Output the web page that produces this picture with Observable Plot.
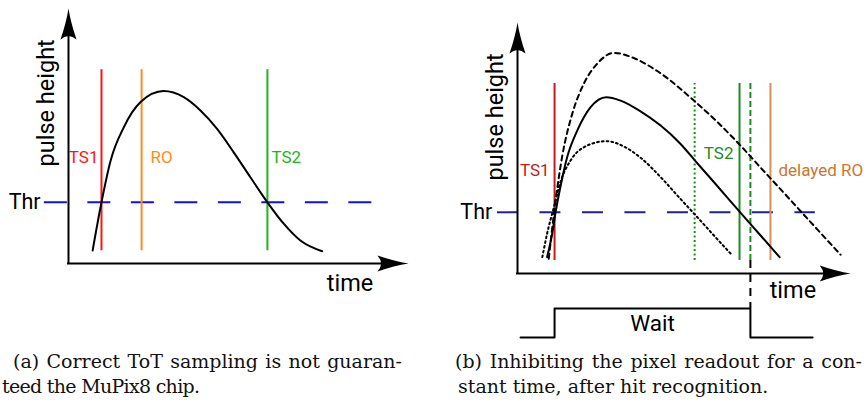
<!DOCTYPE html>
<html>
<head>
<meta charset="utf-8">
<script src="https://cdn.jsdelivr.net/npm/d3@7"></script>
<script src="https://cdn.jsdelivr.net/npm/@observablehq/plot@0.6"></script>
<style>
  body { margin: 0; background: #fff; }
  #fig { position: relative; width: 867px; height: 405px; overflow: hidden; background: #fff; }
  .panel { position: absolute; top: 0; }
  .cap { position: absolute; font-family: "DejaVu Serif", serif; font-size: 19px; line-height: 25px; color: #111; white-space: nowrap; }
  .just { text-align: justify; text-align-last: justify; }
</style>
</head>
<body>
<div id="fig">
  <div class="cap just" style="left:13px; top:349px; width:389px;">(a) Correct ToT sampling is not guaran-</div>
  <div class="cap" style="left:2px; top:374px; letter-spacing:-0.7px;">teed the MuPix8 chip.</div>
  <div class="cap just" style="left:455px; top:349px; width:407px;">(b) Inhibiting the pixel readout for a con-</div>
  <div class="cap" style="left:458px; top:374px;">stant time, after hit recognition.</div>
</div>
<script>
// ---------- (a) one pulse, sampled at TS1 / RO / TS2 ----------
const aPulseT = [0.71, 0.97, 1.24, 1.63, 2.12, 2.80, 3.39, 3.88, 4.37, 4.86, 5.35, 5.85, 6.33, 6.82, 7.46];
const aPulseH = [0.51, 2.40, 4.04, 5.35, 6.33, 6.76, 6.52, 6.00, 5.28, 4.36, 3.38, 2.40, 1.56, 0.90, 0.48];
const aThreshold = 2.4;
const aMarkerNames = ["TS1", "RO", "TS2"];
const aMarkerTimes = [0.97, 2.15, 5.85];

// ---------- (b) three pulse amplitudes, readout delayed by a fixed wait ----------
const bMidT = [0.87, 1.02, 1.12, 1.26, 1.46, 1.76, 2.15, 2.61, 3.03, 3.62, 4.21, 4.79, 5.24, 5.87, 6.55, 7.15, 7.71];
const bMidH = [0.64, 1.56, 2.40, 3.38, 4.56, 5.61, 6.52, 6.91, 6.78, 6.36, 5.80, 5.09, 4.40, 3.44, 2.40, 1.49, 0.64];
const bLargeT = [0.92, 1.12, 1.31, 1.61, 1.95, 2.34, 2.83, 3.42, 4.11, 5.19, 5.87, 6.50, 7.20, 7.85, 8.35, 8.81, 9.50];
const bLargeH = [0.58, 2.86, 4.56, 6.26, 7.44, 8.22, 8.65, 8.45, 7.94, 6.78, 5.95, 5.10, 4.08, 3.14, 2.41, 1.74, 0.74];
const bSmallT = [0.73, 0.87, 1.07, 1.26, 1.56, 1.95, 2.61, 3.13, 3.62, 4.21, 4.79, 5.24, 5.77, 6.31];
const bSmallH = [0.64, 1.56, 2.60, 3.58, 4.43, 4.95, 5.19, 4.98, 4.54, 3.78, 2.93, 2.28, 1.50, 0.72];
const bThreshold = 2.4;
const bMarkerNames = ["TS1", "TS2 small", "TS2", "TS2 after wait", "delayed RO"];
const bMarkerTimes = [1.09, 5.21, 6.53, 6.85, 7.44];
// Wait signal: logic level over time (step after each point)
const waitTimes = [0.09, 1.09, 6.85, 8.68];
const waitLevels = [0, 1, 0, 0];

// ---------- helpers ----------
const zip = (ts, hs) => ts.map((t, i) => ({t, h: hs[i]}));
const font = "Roboto";
const smooth = "monotone-x";

// filled arrow head, tip at the origin, pointing up
const arrowHead = {
  draw(ctx) {
    ctx.moveTo(0, 0);
    ctx.quadraticCurveTo(2.2, 14, 8, 31);
    ctx.quadraticCurveTo(0, 24, -8, 31);
    ctx.quadraticCurveTo(-2.2, 14, 0, 0);
    ctx.closePath();
  }
};

function axes(xTip, yTip) {
  return [
    Plot.ruleX([0], {y1: 0, y2: yTip - 0.6, stroke: "black", strokeWidth: 2, strokeLinecap: "square"}),
    Plot.ruleY([0], {x1: 0, x2: xTip - 0.5, stroke: "black", strokeWidth: 2, strokeLinecap: "square"}),
    Plot.dot([{t: 0, h: yTip, r: 0}, {t: xTip, h: 0, r: 90}],
      {x: "t", y: "h", rotate: "r", symbol: arrowHead, r: 5, fill: "black", stroke: "none"})
  ];
}

// ---------- panel (a) ----------
const aMarkers = aMarkerNames.map((name, i) => ({name, t: aMarkerTimes[i]}));
const aColors = {TS1: "#ff1414", RO: "#ff8a1f", TS2: "#1fb41f"};
const aLabelShift = {TS1: [-3, "end"], RO: [9, "start"], TS2: [4, "start"]};

const left = Plot.plot({
  width: 430, height: 300, margin: 0,
  x: {domain: [0, 10], range: [68, 408], axis: null},
  y: {domain: [0, 10], range: [263, 8], axis: null},
  style: {background: "transparent", overflow: "visible"},
  marks: [
    Plot.ruleY([aThreshold], {x1: -0.71, x2: 8.94, stroke: "#1212e0", strokeWidth: 2, strokeDasharray: "23,20.5"}),
    ...aMarkers.map(m => Plot.ruleX([m], {x: "t", y1: 0.5, y2: 7.6, stroke: aColors[m.name], strokeWidth: 2})),
    Plot.line(zip(aPulseT, aPulseH), {x: "t", y: "h", curve: smooth, stroke: "black", strokeWidth: 2}),
    ...axes(10, 10),
    ...aMarkers.map(m => Plot.text([m], {x: "t", y: 4.16, text: "name", dx: aLabelShift[m.name][0],
      textAnchor: aLabelShift[m.name][1], fill: aColors[m.name], fontSize: 17, fontFamily: font})),
    Plot.text(["Thr"], {x: -0.82, y: aThreshold, textAnchor: "end", fontSize: 21.5, fontFamily: font, fill: "black"}),
    Plot.text(["pulse height"], {x: -0.65, y: 6.3, rotate: -90, fontSize: 23.5, fontFamily: font, fill: "black"}),
    Plot.text(["time"], {x: 8.28, y: -0.78, fontSize: 23.5, fontFamily: font, fill: "black"})
  ]
});
left.classList.add("panel");
left.style.left = "0px";

// ---------- panel (b) ----------
const bMarkers = bMarkerNames.map((name, i) => ({name, t: bMarkerTimes[i]}));
const bStyle = {
  "TS1": {stroke: "#c81818"},
  "TS2 small": {stroke: "#1e8c1e", strokeDasharray: "2,2.5"},
  "TS2": {stroke: "#1e8c1e"},
  "TS2 after wait": {stroke: "#1e8c1e", strokeDasharray: "6,3"},
  "delayed RO": {stroke: "#d4915a"}
};
const waitBase = -2.51, waitSwing = 1.14;
const waitY = level => waitBase + level * waitSwing;
const waitStart = waitTimes[1], waitEnd = waitTimes[2];

const right = Plot.plot({
  width: 427, height: 345, margin: 0,
  x: {domain: [0, 10], range: [77, 417], axis: null},
  y: {domain: [0, 10], range: [273, 18], axis: null},
  style: {background: "transparent", overflow: "visible"},
  marks: [
    Plot.ruleY([bThreshold], {x1: -0.59, x2: 8.76, stroke: "#22228c", strokeWidth: 2, strokeDasharray: "21,21.5"}),
    ...bMarkers.map(m => Plot.ruleX([m], {x: "t", y1: 0.51, y2: 7.45, strokeWidth: 2, ...bStyle[m.name]})),
    Plot.line(zip(bLargeT, bLargeH), {x: "t", y: "h", curve: smooth, stroke: "black", strokeWidth: 2, strokeDasharray: "5,4"}),
    Plot.line(zip(bSmallT, bSmallH), {x: "t", y: "h", curve: smooth, stroke: "black", strokeWidth: 2, strokeDasharray: "1.8,3"}),
    Plot.line(zip(bMidT, bMidH), {x: "t", y: "h", curve: smooth, stroke: "black", strokeWidth: 2}),
    Plot.ruleX([waitEnd], {y1: 0.51, y2: waitY(1), stroke: "black", strokeWidth: 2, strokeDasharray: "8,6"}),
    Plot.line(waitTimes.map((t, i) => ({t, level: waitLevels[i]})),
      {x: "t", y: d => waitY(d.level), curve: "step-after", stroke: "black", strokeWidth: 2}),
    Plot.text(["Wait"], {x: (waitStart + waitEnd) / 2, y: waitY(0.48), fontSize: 22.5, fontFamily: font, fill: "black"}),
    ...axes(9.8, 9.84),
    Plot.text(["TS1"], {x: bMarkerTimes[0], y: 4.04, dx: -5, textAnchor: "end", fill: "#c81818", fontSize: 17, fontFamily: font}),
    Plot.text(["TS2"], {x: bMarkerTimes[2], y: 4.7, dx: -6, textAnchor: "end", fill: "#1e8c1e", fontSize: 17, fontFamily: font}),
    Plot.text(["delayed RO"], {x: bMarkerTimes[4], y: 4.04, dx: 8, textAnchor: "start", fill: "#cc7630", fontSize: 17, fontFamily: font}),
    Plot.text(["Thr"], {x: -0.74, y: bThreshold, textAnchor: "end", fontSize: 21.5, fontFamily: font, fill: "black"}),
    Plot.text(["pulse height"], {x: -0.65, y: 6.14, rotate: -90, fontSize: 23.5, fontFamily: font, fill: "black"}),
    Plot.text(["time"], {x: 8.1, y: -0.67, fontSize: 23.5, fontFamily: font, fill: "black"})
  ]
});
right.classList.add("panel");
right.style.left = "440px";

const fig = document.getElementById("fig");
fig.prepend(right);
fig.prepend(left);
</script>
</body>
</html>
